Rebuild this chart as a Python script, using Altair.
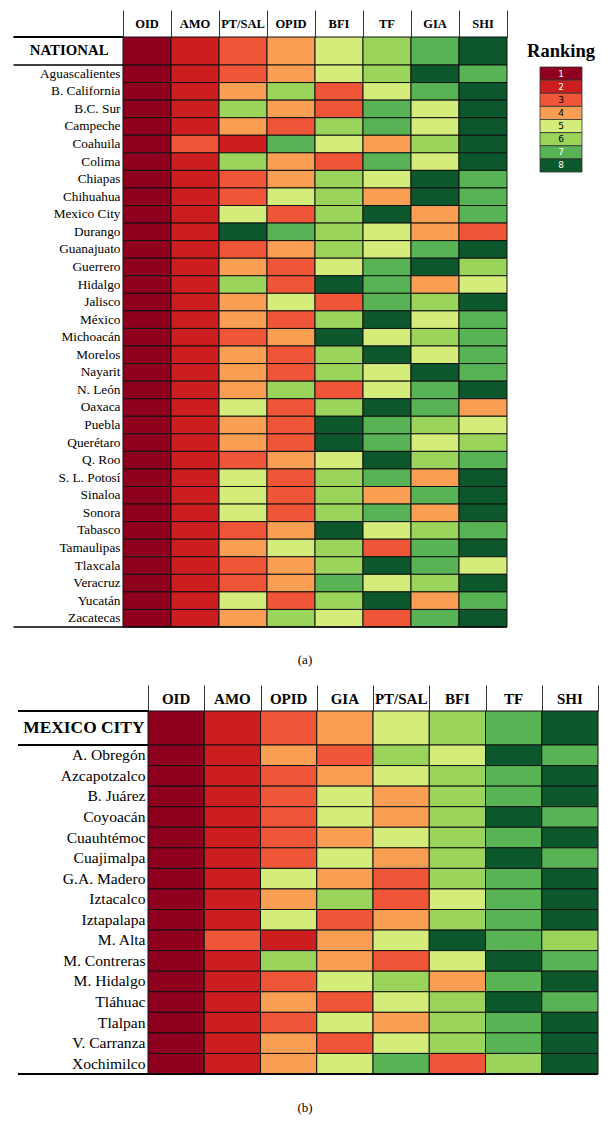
import altair as alt
import pandas as pd

SERIF = "Liberation Serif"

RANKS = [1, 2, 3, 4, 5, 6, 7, 8]
RANK_COLORS = ["#8f001e", "#cc1d1f", "#ee5637", "#f99f53",
               "#d3ec7a", "#9ad45b", "#57b354", "#0c582c"]
LABEL_WHITE = [1, 2, 7, 8]
LEGEND_TITLE = ["Ranking"]
CAPTIONS = ["(a)", "(b)"]

# ---------------- Panel (a) ----------------
cols_a = ["OID", "AMO", "PT/SAL", "OPID", "BFI", "TF", "GIA", "SHI"]
top_a = "NATIONAL"
top_a_ranks = [1, 2, 3, 4, 5, 6, 7, 8]
states = ["Aguascalientes", "B. California", "B.C. Sur", "Campeche", "Coahuila",
          "Colima", "Chiapas", "Chihuahua", "Mexico City", "Durango", "Guanajuato",
          "Guerrero", "Hidalgo", "Jalisco", "México", "Michoacán", "Morelos",
          "Nayarit", "N. León", "Oaxaca", "Puebla", "Querétaro", "Q. Roo",
          "S. L. Potosí", "Sinaloa", "Sonora", "Tabasco", "Tamaulipas", "Tlaxcala",
          "Veracruz", "Yucatán", "Zacatecas"]
state_ranks = [
    [1, 2, 3, 4, 5, 6, 8, 7],
    [1, 2, 4, 6, 3, 5, 7, 8],
    [1, 2, 6, 4, 3, 7, 5, 8],
    [1, 2, 4, 3, 6, 7, 5, 8],
    [1, 3, 2, 7, 5, 4, 6, 8],
    [1, 2, 6, 4, 3, 7, 5, 8],
    [1, 2, 3, 4, 6, 5, 8, 7],
    [1, 2, 3, 5, 6, 4, 8, 7],
    [1, 2, 5, 3, 6, 8, 4, 7],
    [1, 2, 8, 7, 6, 5, 4, 3],
    [1, 2, 3, 4, 6, 5, 7, 8],
    [1, 2, 4, 3, 5, 7, 8, 6],
    [1, 2, 6, 3, 8, 7, 4, 5],
    [1, 2, 4, 5, 3, 7, 6, 8],
    [1, 2, 4, 3, 6, 8, 5, 7],
    [1, 2, 3, 4, 8, 5, 6, 7],
    [1, 2, 4, 3, 6, 8, 5, 7],
    [1, 2, 4, 3, 6, 5, 8, 7],
    [1, 2, 4, 6, 3, 5, 7, 8],
    [1, 2, 5, 3, 6, 8, 7, 4],
    [1, 2, 4, 3, 8, 7, 6, 5],
    [1, 2, 4, 3, 8, 7, 5, 6],
    [1, 2, 3, 4, 5, 8, 6, 7],
    [1, 2, 5, 3, 6, 7, 4, 8],
    [1, 2, 5, 3, 6, 4, 7, 8],
    [1, 2, 5, 3, 6, 7, 4, 8],
    [1, 2, 3, 4, 8, 5, 6, 7],
    [1, 2, 4, 5, 6, 3, 7, 8],
    [1, 2, 3, 4, 6, 8, 7, 5],
    [1, 2, 3, 4, 7, 5, 6, 8],
    [1, 2, 5, 3, 6, 8, 4, 7],
    [1, 2, 4, 6, 5, 3, 7, 8],
]

# ---------------- Panel (b) ----------------
cols_b = ["OID", "AMO", "OPID", "GIA", "PT/SAL", "BFI", "TF", "SHI"]
top_b = "MEXICO CITY"
top_b_ranks = [1, 2, 3, 4, 5, 6, 7, 8]
districts = ["A. Obregón", "Azcapotzalco", "B. Juárez", "Coyoacán", "Cuauhtémoc",
             "Cuajimalpa", "G.A. Madero", "Iztacalco", "Iztapalapa", "M. Alta",
             "M. Contreras", "M. Hidalgo", "Tláhuac", "Tlalpan", "V. Carranza",
             "Xochimilco"]
district_ranks = [
    [1, 2, 4, 3, 6, 5, 8, 7],
    [1, 2, 3, 4, 5, 6, 7, 8],
    [1, 2, 3, 5, 4, 6, 7, 8],
    [1, 2, 3, 5, 4, 6, 8, 7],
    [1, 2, 3, 4, 5, 6, 7, 8],
    [1, 2, 3, 5, 4, 6, 8, 7],
    [1, 2, 5, 4, 3, 6, 7, 8],
    [1, 2, 4, 6, 3, 5, 7, 8],
    [1, 2, 5, 3, 4, 6, 7, 8],
    [1, 3, 2, 4, 5, 8, 7, 6],
    [1, 2, 6, 4, 3, 5, 8, 7],
    [1, 2, 3, 5, 6, 4, 7, 8],
    [1, 2, 4, 3, 5, 6, 8, 7],
    [1, 2, 3, 5, 4, 6, 7, 8],
    [1, 2, 4, 3, 5, 6, 7, 8],
    [1, 2, 4, 5, 7, 3, 6, 8],
]


def long_df(names, ranks, cols):
    rows = []
    for name, rr in zip(names, ranks):
        for c, r in zip(cols, rr):
            rows.append({"region": name, "col": c, "rank": r})
    return pd.DataFrame(rows)


csc = alt.Scale(domain=RANKS, range=RANK_COLORS)
one = pd.DataFrame({"k": [0]})
VIEW_W, VIEW_H = 595, 1119


def band(domain, r0, r1):
    return alt.Scale(domain=domain, range=[r0, r1], paddingInner=0, paddingOuter=0)


def hline(x0, x1, y, w):
    return alt.Chart(one).mark_rule(color="black", strokeWidth=w).encode(
        x=alt.value(x0), x2=alt.value(x1), y=alt.value(y))


def panel_layers(cols, top_name, top_ranks, names, ranks, x0, x1, line_x,
                 head_y0, head_y1, top_y1, rows_y1, head_fs, head_ty,
                 top_fs, top_pad, row_fs, row_pad, lw):
    xs = band(cols, x0, x1)
    head = alt.Chart(pd.DataFrame({"col": cols})).mark_text(
        font=SERIF, fontWeight="bold", fontSize=head_fs, color="black",
        baseline="middle", align="center"
    ).encode(
        x=alt.X("col:N", scale=xs,
                axis=alt.Axis(orient="top", offset=-head_y1, title=None,
                              labels=False, domain=False, grid=False,
                              ticks=True, tickBand="extent",
                              tickSize=head_y1 - head_y0, tickColor="#333",
                              tickWidth=1)),
        y=alt.value(head_ty),
        text="col:N",
    )
    top = alt.Chart(long_df([top_name], [top_ranks], cols)).mark_rect(
        stroke="#111", strokeWidth=1
    ).encode(
        x=alt.X("col:N", scale=xs, axis=None),
        y=alt.Y("region:N", scale=band([top_name], head_y1, top_y1),
                axis=alt.Axis(orient="left", offset=-x0, title=None, ticks=False,
                              domain=False, labelFont=SERIF, labelFontSize=top_fs,
                              labelFontWeight="bold", labelColor="black",
                              labelPadding=top_pad, labelLimit=0)),
        color=alt.Color("rank:O", scale=csc, legend=None),
    )
    body = alt.Chart(long_df(names, ranks, cols)).mark_rect(
        stroke="#111", strokeWidth=1
    ).encode(
        x=alt.X("col:N", scale=xs, axis=None),
        y=alt.Y("region:N", scale=band(names, top_y1, rows_y1),
                axis=alt.Axis(orient="left", offset=-x0, title=None, ticks=False,
                              domain=False, labelFont=SERIF, labelFontSize=row_fs,
                              labelColor="black", labelPadding=row_pad,
                              labelLimit=0)),
        color=alt.Color("rank:O", scale=csc, legend=None),
    )
    lines = [hline(line_x, x0, head_y1, lw[0]),
             hline(line_x, x0, top_y1, lw[1]),
             hline(line_x, x1, rows_y1, lw[2])]
    return [head, top, body] + lines


layers_a = panel_layers(cols_a, top_a, top_a_ranks, states, state_ranks,
                        x0=115, x1=499, line_x=5.5,
                        head_y0=2, head_y1=29, top_y1=57, rows_y1=619,
                        head_fs=12.5, head_ty=16, top_fs=14.8, top_pad=15,
                        row_fs=13.3, row_pad=3, lw=[2, 1.5, 1.5])

layers_b = panel_layers(cols_b, top_b, top_b_ranks, districts, district_ranks,
                        x0=140, x1=590, line_x=10,
                        head_y0=677, head_y1=703, top_y1=737, rows_y1=1066,
                        head_fs=15, head_ty=691, top_fs=17.4, top_pad=4,
                        row_fs=15.6, row_pad=3, lw=[2.2, 2, 2])

# ---------------- custom "Ranking" legend ----------------
leg_df = pd.DataFrame({"rank": RANKS, "lab": [str(r) for r in RANKS],
                       "key": LEGEND_TITLE * len(RANKS)})
lx = band(LEGEND_TITLE, 532, 574)
ly = band(RANKS, 59, 164)
leg_rect = alt.Chart(leg_df).mark_rect(stroke="#333", strokeWidth=0.8).encode(
    x=alt.X("key:N", scale=lx, axis=None),
    y=alt.Y("rank:O", scale=ly, axis=None),
    color=alt.Color("rank:O", scale=csc, legend=None),
)
leg_text = alt.Chart(leg_df).mark_text(font="DejaVu Sans", fontSize=9,
                                       baseline="middle", align="center").encode(
    x=alt.X("key:N", scale=lx, axis=None),
    y=alt.Y("rank:O", scale=ly, axis=None),
    text="lab:N",
    color=alt.condition(alt.FieldOneOfPredicate(field="rank", oneOf=LABEL_WHITE),
                        alt.value("white"), alt.value("black")),
)
leg_title = alt.Chart(pd.DataFrame({"t": LEGEND_TITLE})).mark_text(
    font=SERIF, fontSize=18.5, fontWeight="bold", color="black",
    baseline="middle", align="center"
).encode(x=alt.value(553), y=alt.value(43), text="t:N")

cap_a = alt.Chart(pd.DataFrame({"t": [CAPTIONS[0]]})).mark_text(
    font=SERIF, fontSize=13, color="black", baseline="middle", align="center"
).encode(x=alt.value(297), y=alt.value(652), text="t:N")
cap_b = alt.Chart(pd.DataFrame({"t": [CAPTIONS[1]]})).mark_text(
    font=SERIF, fontSize=13, color="black", baseline="middle", align="center"
).encode(x=alt.value(297), y=alt.value(1100), text="t:N")

chart = alt.layer(
    *layers_a, *layers_b, leg_rect, leg_text, leg_title, cap_a, cap_b
).resolve_scale(x="independent", y="independent").properties(
    width=VIEW_W, height=VIEW_H,
    autosize=alt.AutoSizeParams(type="none"), padding=0,
).configure_view(stroke=None)

chart.save("out.html", embed_options={"renderer": "svg", "actions": False})
